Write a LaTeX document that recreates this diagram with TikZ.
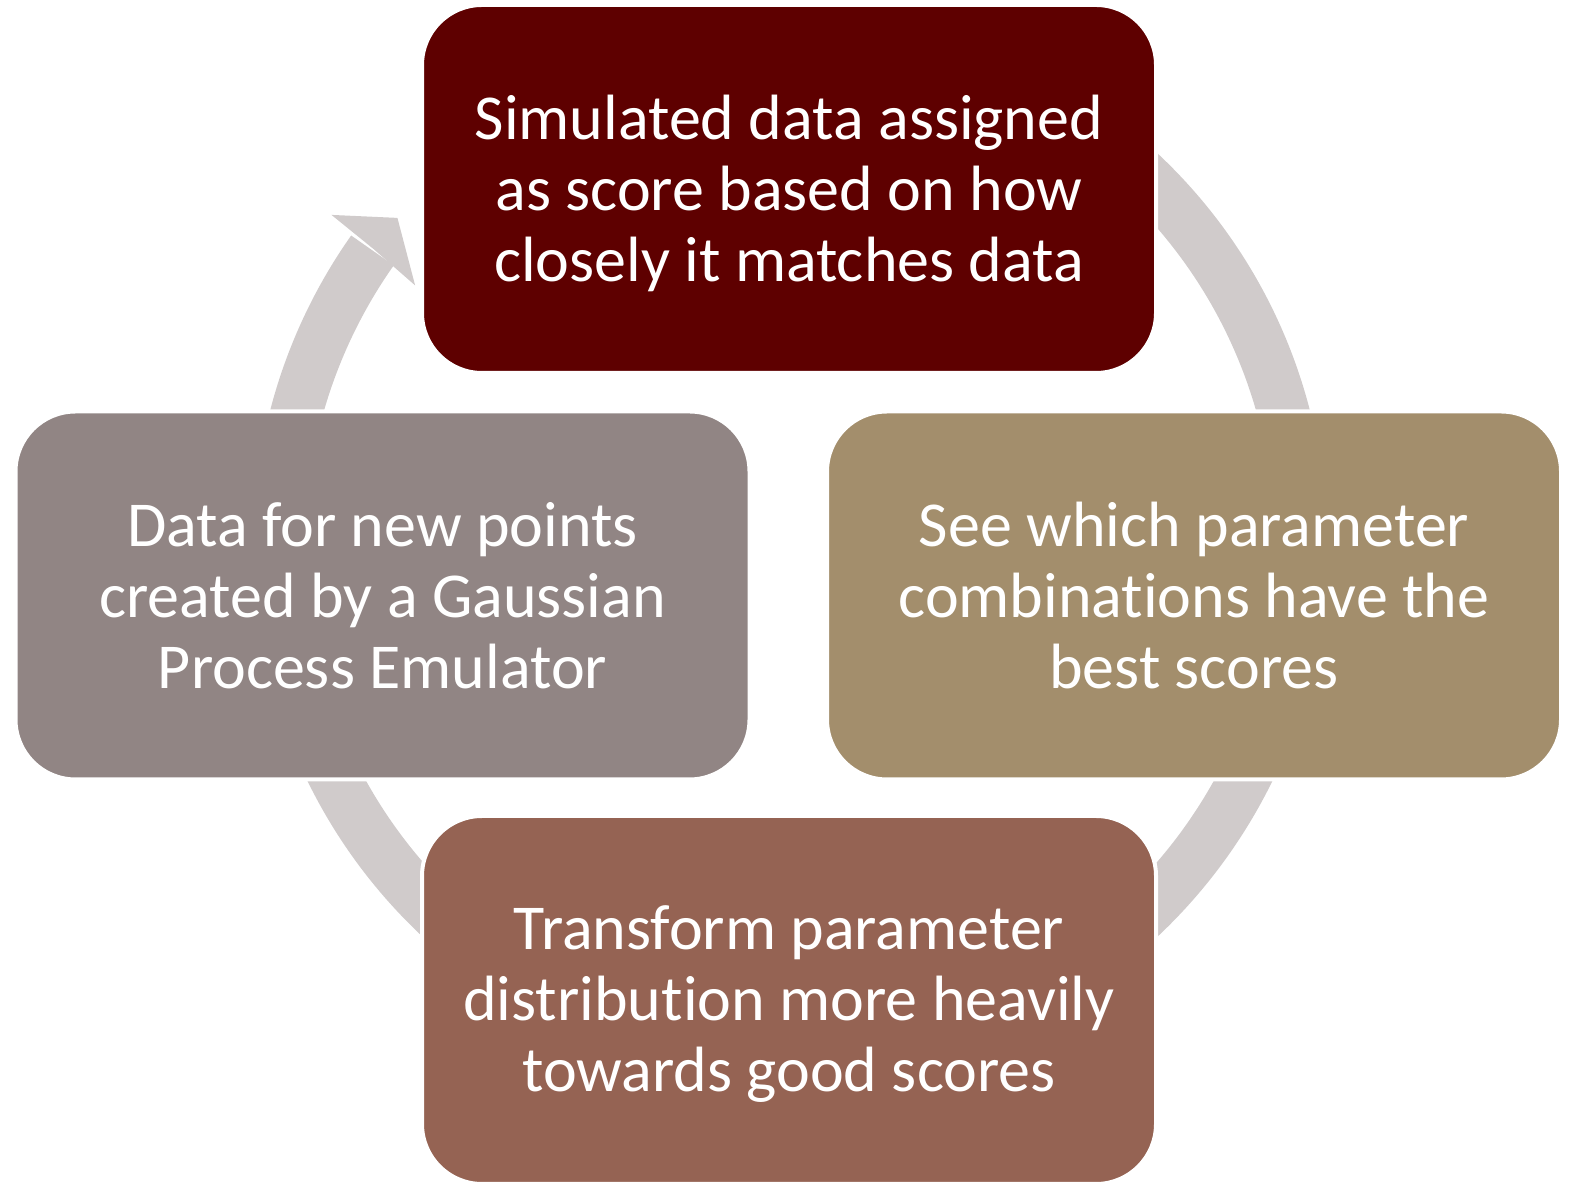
\documentclass[tikz,border=0pt]{standalone}
\usepackage{fontspec}
\setmainfont{Carlito}[Ligatures=NoCommon]
\usetikzlibrary{calc}
\definecolor{topred}{RGB}{94,0,0}
\definecolor{leftgray}{RGB}{145,133,132}
\definecolor{righttan}{RGB}{163,142,108}
\definecolor{bottombrown}{RGB}{149,99,83}
\definecolor{ringgray}{RGB}{208,203,203}
% strut giving every text line the same height and depth
\newcommand\linestrut{\rule[-9pt]{0pt}{62pt}}
\tikzset{
  stepbox/.style={shape=rectangle, draw=white, line width=4pt,
    rounded corners=60pt, minimum width=734pt, minimum height=368pt,
    inner sep=0pt},
  steptext/.style={text=white, align=center, inner sep=0pt,
    font=\fontsize{64pt}{71pt}\selectfont},
  ring/.style={draw=ringgray, line width=52pt, line cap=butt},
}
\begin{document}
\begin{tikzpicture}[x=1pt,y=1pt]
  \useasboundingbox (0,0) rectangle (1573,1182);
  \coordinate (ctr) at (790,637);

  % circular arrow behind the boxes
  \draw[ring] ($(ctr)+(100:511)$) arc[start angle=100, end angle=-215.2, radius=511];
  \fill[ringgray] ($(ctr)+(144.25:565)$) -- ($(ctr)+(140.2:511)$)
    -- ($(ctr)+(145.3:456)$) -- ($(ctr)+(144.6:511)$) -- cycle;

  % the four steps
  \node[stepbox, fill=topred]      (top)    at (789,993)   {};
  \node[stepbox, fill=leftgray]    (left)   at (382.5,586.5) {};
  \node[stepbox, fill=righttan]    (right)  at (1194,586.5)  {};
  \node[stepbox, fill=bottombrown] (bottom) at (789,182)   {};

  \node[steptext] (toptext) at (top)
    {\linestrut Simulated data assigned\\\linestrut as score based on how\\\linestrut closely it matches data};
  \node[steptext] (lefttext) at (left)
    {\linestrut Data for new points\\\linestrut created by a Gaussian\\\linestrut Process Emulator};
  \node[steptext] (righttext) at (right)
    {\linestrut See which parameter\\\linestrut combinations have the\\\linestrut best scores};
  \node[steptext] (bottomtext) at (bottom)
    {\linestrut Transform parameter\\\linestrut distribution more heavily\\\linestrut towards good scores};
\end{tikzpicture}
\end{document}
